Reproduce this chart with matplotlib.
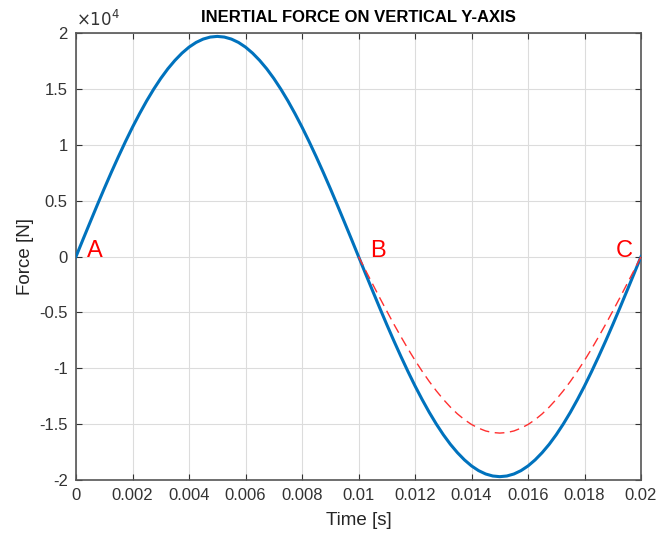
import numpy as np
import matplotlib.pyplot as plt

# values (force in units of 1e4 N)
time_full = np.linspace(0, 0.02, 81)
force_blue = [0, 0.155, 0.308, 0.460, 0.609, 0.754, 0.894, 1.029, 1.158, 1.279, 1.393,
              1.498, 1.594, 1.680, 1.755, 1.820, 1.874, 1.916, 1.946, 1.964, 1.97,
              1.964, 1.946, 1.916, 1.874, 1.820, 1.755, 1.680, 1.594, 1.498, 1.393,
              1.279, 1.158, 1.029, 0.894, 0.754, 0.609, 0.460, 0.308, 0.155, 0,
              -0.155, -0.308, -0.460, -0.609, -0.754, -0.894, -1.029, -1.158, -1.279, -1.393,
              -1.498, -1.594, -1.680, -1.755, -1.820, -1.874, -1.916, -1.946, -1.964, -1.97,
              -1.964, -1.946, -1.916, -1.874, -1.820, -1.755, -1.680, -1.594, -1.498, -1.393,
              -1.279, -1.158, -1.029, -0.894, -0.754, -0.609, -0.460, -0.308, -0.155, 0]

time_half = np.linspace(0.01, 0.02, 41)
force_red = [0, -0.124, -0.247, -0.369, -0.488, -0.605, -0.717, -0.826, -0.929, -1.026, -1.117,
             -1.201, -1.278, -1.347, -1.408, -1.460, -1.503, -1.536, -1.561, -1.575, -1.58,
             -1.575, -1.561, -1.536, -1.503, -1.460, -1.408, -1.347, -1.278, -1.201, -1.117,
             -1.026, -0.929, -0.826, -0.717, -0.605, -0.488, -0.369, -0.247, -0.124, 0]

x_ticks = [0, 0.002, 0.004, 0.006, 0.008, 0.01, 0.012, 0.014, 0.016, 0.018, 0.02]
x_labels = ['0', '0.002', '0.004', '0.006', '0.008', '0.01', '0.012', '0.014', '0.016', '0.018', '0.02']
y_ticks = [-2, -1.5, -1, -0.5, 0, 0.5, 1, 1.5, 2]
y_labels = ['-2', '-1.5', '-1', '-0.5', '0', '0.5', '1', '1.5', '2']

points = [('A', 0.0004, 0), ('B', 0.0104, 0), ('C', 0.0191, 0)]

plt.rcParams['font.family'] = ['Liberation Sans', 'DejaVu Sans']

fig = plt.figure(figsize=(6.56, 5.33), dpi=100)
ax = fig.add_axes([0.1159, 0.0994, 0.8613, 0.8386])

ax.plot(time_full, np.array(force_blue) * 1e4, color='#0072BD', lw=2.2, zorder=3)
ax.plot(time_half, np.array(force_red) * 1e4, color='#FF3030', lw=1.0, ls=(0, (7, 4)), zorder=4)

# point labels, nudged a few points upward like the original
for name, tx, ty in points:
    ax.annotate(name, (tx, ty), xytext=(0, 4), textcoords='offset points',
                color='red', fontsize=17, va='center', ha='left')

ax.set_xlim(0, 0.02)
ax.set_ylim(-2e4, 2e4)
ax.set_xticks(x_ticks)
ax.set_xticklabels(x_labels)
ax.set_yticks(np.array(y_ticks) * 1e4)
ax.set_yticklabels(y_labels)

ax.grid(True, color='#dcdcdc', lw=0.8)
ax.set_axisbelow(True)
ax.tick_params(direction='in', top=True, right=True, length=4, labelsize=12,
               colors='#333333', width=0.8, pad=6)
for s in ax.spines.values():
    s.set_color('#555555')
    s.set_linewidth(1.2)

ax.text(0.0, 1.008, r'$\times10^4$', transform=ax.transAxes, fontsize=12,
        color='#333333', va='bottom', ha='left')

ax.set_title('INERTIAL FORCE ON VERTICAL Y-AXIS', fontsize=12, fontweight='bold', pad=8)
ax.set_xlabel('Time [s]', fontsize=13.5, color='#262626', labelpad=6)
ax.set_ylabel('Force [N]', fontsize=13.5, color='#262626', labelpad=4)

plt.savefig('out.png', dpi=100)
